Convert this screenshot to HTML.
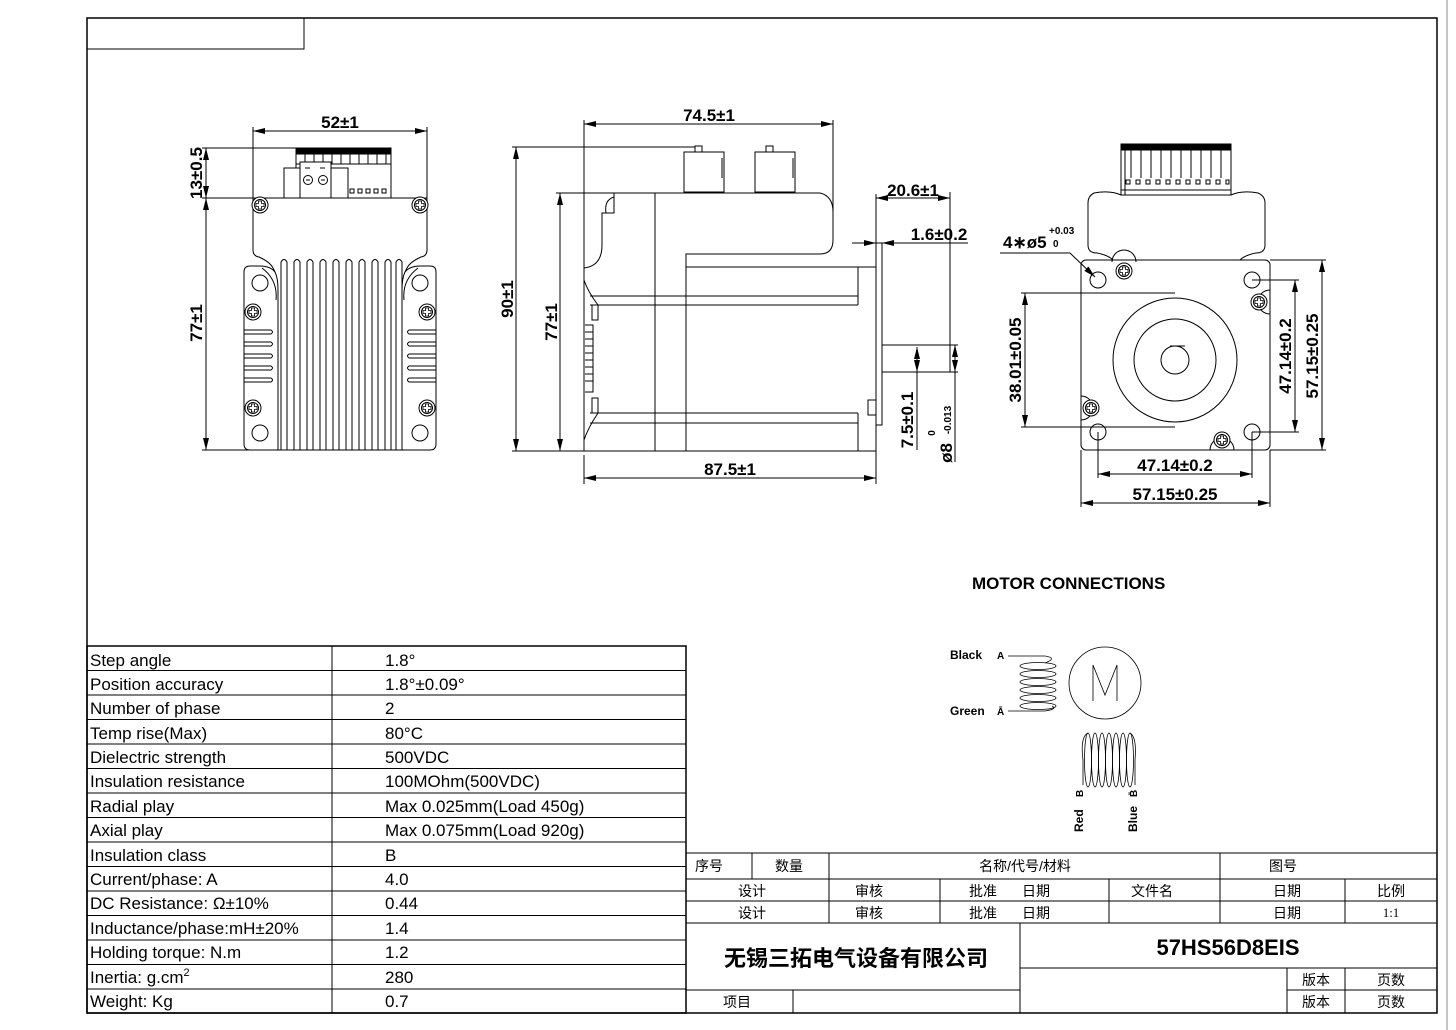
<!DOCTYPE html>
<html><head><meta charset="utf-8"><style>
html,body{margin:0;padding:0;background:#fff}
svg{display:block}
text{font-family:"Liberation Sans Narrow","Liberation Sans",sans-serif;fill:#000}
.d{font-size:17px;font-weight:bold;font-stretch:condensed}
.t{font-size:17px;font-stretch:condensed}
.c{font-family:"Liberation Sans","Noto Sans CJK SC",sans-serif;font-size:14px}
</style></head><body>
<svg width="1456" height="1030" viewBox="0 0 1456 1030" xmlns="http://www.w3.org/2000/svg">
<defs>
<marker id="a" markerWidth="12" markerHeight="6" refX="12" refY="3" orient="auto-start-reverse" markerUnits="userSpaceOnUse"><path d="M0,0 L12,3 L0,6 z" fill="#000"/></marker>
<g id="scr"><circle r="8" fill="#fff" stroke="#000" stroke-width="1"/><circle r="5.5" fill="none" stroke="#000" stroke-width="1"/><path d="M-1.5,-4 h3 v2.5 h2.5 v3 h-2.5 v2.5 h-3 v-2.5 h-2.5 v-3 h2.5z" fill="none" stroke="#000" stroke-width="0.8"/></g>
</defs>
<g fill="none" stroke="#000" stroke-width="1">
<!-- frame -->
<rect x="87" y="18" width="1350" height="995" stroke-width="1.5"/>
<rect x="87" y="18" width="217" height="31"/>
<line x1="1447" y1="0" x2="1447" y2="1030" stroke="#888"/>

<!-- ===== FRONT VIEW ===== -->
<line x1="253" y1="127" x2="253" y2="200"/><line x1="427" y1="127" x2="427" y2="200"/>
<line x1="253" y1="131" x2="427" y2="131" marker-start="url(#a)" marker-end="url(#a)"/>
<line x1="202" y1="148" x2="296" y2="148"/><line x1="202" y1="198" x2="253" y2="198"/>
<line x1="206" y1="148" x2="206" y2="198" marker-start="url(#a)" marker-end="url(#a)"/>
<line x1="206" y1="198" x2="206" y2="450" marker-start="url(#a)" marker-end="url(#a)"/>
<line x1="202" y1="450" x2="290" y2="450"/>
<!-- connector -->
<rect x="296" y="148" width="95" height="50"/>
<rect x="296" y="148" width="95" height="6" fill="#000"/>
<path d="M296 154v10h95v-10"/>
<path d="M305 154v10M314 154v10M323 154v10M332 154v10M341 154v10M350 154v10M359 154v10M368 154v10M377 154v10M386 154v10"/>
<rect x="284" y="168" width="64" height="30" fill="#fff"/>
<rect x="300" y="162" width="31" height="36" fill="#fff"/>
<circle cx="308" cy="180" r="4.5"/><circle cx="323" cy="180" r="4.5"/>
<path d="M306 180h4M321 180h4M305 168h5M320 168h5"/>
<path d="M350 189h4v4h-4zM358 189h4v4h-4zM366 189h4v4h-4zM374 189h4v4h-4zM382 189h4v4h-4z"/>
<!-- top plate & body -->
<path d="M253 198 H427 V250 Q427 256 421 257 Q410 262 407 268 L405 272 Q410 266 420 266 H430 Q436 266 436 272 V444 Q436 450 430 450 H250 Q244 450 244 444 V272 Q244 266 250 266 H260 Q270 266 275 272 L273 268 Q270 262 259 257 Q253 256 253 250 Z"/>
<path d="M275 272 Q278 278 278 290 V450 M405 272 Q402 278 402 290 V450"/>
<path d="M262 268 Q278 280 276 300 M418 268 Q402 280 404 300"/>
<g>
<path d="M281 450V262q3-5 6 0V450M294 450V262q3-5 6 0V450M307 450V262q3-5 6 0V450M320 450V262q3-5 6 0V450M333 450V262q3-5 6 0V450M346 450V262q3-5 6 0V450M359 450V262q3-5 6 0V450M372 450V262q3-5 6 0V450M385 450V262q3-5 6 0V450M396 450V262q3-5 6 0V450"/>
</g>
<circle cx="260" cy="283" r="8"/><circle cx="420" cy="283" r="8"/><circle cx="260" cy="433" r="8"/><circle cx="420" cy="433" r="8"/>
<path d="M244 330h27q3 2 0 4h-27M244 342h27q3 2 0 4h-27M244 354h27q3 2 0 4h-27M244 366h27q3 2 0 4h-27M244 378h27q3 2 0 4h-27"/>
<path d="M436 330h-27q-3 2 0 4h27M436 342h-27q-3 2 0 4h27M436 354h-27q-3 2 0 4h27M436 366h-27q-3 2 0 4h27M436 378h-27q-3 2 0 4h27"/>
</g>
<use href="#scr" x="260" y="205"/><use href="#scr" x="420" y="205"/>
<use href="#scr" x="253" y="312"/><use href="#scr" x="427" y="312"/>
<use href="#scr" x="253" y="408"/><use href="#scr" x="427" y="408"/>
<text class="d" x="340" y="128" text-anchor="middle">52±1</text>
<text class="d" transform="translate(202,173) rotate(-90)" text-anchor="middle">13±0.5</text>
<text class="d" transform="translate(202,323) rotate(-90)" text-anchor="middle">77±1</text>

<!-- ===== SIDE VIEW ===== -->
<g fill="none" stroke="#000" stroke-width="1">
<line x1="584" y1="120" x2="584" y2="268"/><line x1="833" y1="120" x2="833" y2="240"/>
<line x1="584" y1="124" x2="833" y2="124" marker-start="url(#a)" marker-end="url(#a)"/>
<line x1="512" y1="147" x2="695" y2="147"/>
<line x1="516" y1="147" x2="516" y2="451" marker-start="url(#a)" marker-end="url(#a)"/>
<line x1="556" y1="193" x2="604" y2="193"/>
<line x1="560" y1="193" x2="560" y2="451" marker-start="url(#a)" marker-end="url(#a)"/>
<line x1="512" y1="451" x2="584" y2="451"/>
<!-- connectors -->
<rect x="684" y="152" width="40" height="40"/><rect x="695" y="146" width="7" height="6"/>
<rect x="755" y="152" width="40" height="40"/><rect x="766" y="146" width="7" height="6"/>
<path d="M722 158v20M793 158v20"/>
<!-- body -->
<path d="M584 268 Q602 266 602 245 V213 H614 V193 H820 Q833 196 833 212 V240 Q833 254 820 254 H686 V451"/>
<path d="M606 213 Q604 200 614 197"/>
<line x1="604" y1="193" x2="820" y2="193"/>
<line x1="655" y1="193" x2="655" y2="451"/>
<path d="M584 268 V451 H876"/>
<path d="M686 267 H876"/>
<path d="M858 267 V305 M858 413 V451"/>
<path d="M590 296 H858 M590 305 H858 M590 413 H858 M590 423 H858"/>
<path d="M584 280 Q588 292 598 305 M584 440 Q588 428 598 413"/>
<path d="M598 305 H592 V320 H598 Z M598 398 H592 V413 H598 Z" />
<path d="M585 325 H593 V392 H585 M585 332 H593 M585 339 H593 M585 346 H593 M585 353 H593 M585 360 H593 M585 367 H593 M585 374 H593 M585 381 H593"/>
<path d="M876 400 H868 V415 H876"/>
<rect x="876" y="243" width="6" height="182"/>
<rect x="882" y="345" width="68" height="27"/>
<line x1="584" y1="455" x2="584" y2="484"/><line x1="876" y1="425" x2="876" y2="484"/>
<line x1="584" y1="478" x2="876" y2="478" marker-start="url(#a)" marker-end="url(#a)"/>
<line x1="876" y1="194" x2="876" y2="243"/><line x1="950" y1="192" x2="950" y2="345"/>
<line x1="876" y1="198" x2="950" y2="198" marker-start="url(#a)" marker-end="url(#a)"/>
<line x1="852" y1="243" x2="876" y2="243" marker-end="url(#a)"/>
<line x1="907" y1="243" x2="882" y2="243" marker-end="url(#a)"/>
<line x1="907" y1="243" x2="968" y2="243"/>
<line x1="917" y1="347" x2="917" y2="372" marker-start="url(#a)" marker-end="url(#a)"/>
<line x1="917" y1="372" x2="917" y2="450"/>
<line x1="950" y1="372" x2="958" y2="372"/><line x1="950" y1="345" x2="958" y2="345"/>
<line x1="955" y1="345" x2="955" y2="372" marker-start="url(#a)" marker-end="url(#a)"/>
<line x1="955" y1="372" x2="955" y2="462"/>
</g>
<text class="d" x="709" y="121" text-anchor="middle">74.5±1</text>
<text class="d" transform="translate(513,299) rotate(-90)" text-anchor="middle">90±1</text>
<text class="d" transform="translate(557,322) rotate(-90)" text-anchor="middle">77±1</text>
<text class="d" x="730" y="475" text-anchor="middle">87.5±1</text>
<text class="d" x="913" y="196" text-anchor="middle">20.6±1</text>
<text class="d" x="939" y="240" text-anchor="middle">1.6±0.2</text>
<text class="d" transform="translate(913,420) rotate(-90)" text-anchor="middle">7.5±0.1</text>
<text class="d" transform="translate(952,453) rotate(-90)" text-anchor="middle">ø8</text>
<text style="font-size:10px;font-weight:bold" transform="translate(951,420) rotate(-90)" text-anchor="middle">-0.013</text>
<text style="font-size:10px;font-weight:bold" transform="translate(935,433) rotate(-90)" text-anchor="middle">0</text>

<!-- ===== REAR VIEW ===== -->
<g fill="none" stroke="#000" stroke-width="1">
<rect x="1121" y="144" width="110" height="51"/>
<rect x="1121" y="144" width="110" height="6" fill="#000"/>
<path d="M1125 144v51M1131 150v28M1141 150v28M1151 150v28M1161 150v28M1171 150v28M1181 150v28M1191 150v28M1201 150v28M1211 150v28M1221 150v28"/>
<path d="M1126 180h4v4h-4zM1136 180h4v4h-4zM1146 180h4v4h-4zM1156 180h4v4h-4zM1166 180h4v4h-4zM1176 180h4v4h-4zM1186 180h4v4h-4zM1196 180h4v4h-4zM1206 180h4v4h-4zM1216 180h4v4h-4zM1226 180h3v4h-3z"/>
<path d="M1121 190h110"/>
<path d="M1094 193 Q1110 190 1121 195 H1231 Q1242 190 1258 193 Q1265 196 1265 203 V245 Q1265 253 1256 253 Q1245 255 1240 260 M1094 193 Q1088 196 1088 203 V245 Q1088 253 1097 253 Q1108 255 1113 260"/>
<rect x="1081" y="260" width="189" height="190" rx="5"/>
<circle cx="1175" cy="360" r="62"/><circle cx="1175" cy="360" r="41"/><circle cx="1175" cy="360" r="14"/>
<line x1="1170" y1="346" x2="1185" y2="346"/>
<circle cx="1098" cy="280" r="8"/><circle cx="1252" cy="280" r="8"/><circle cx="1098" cy="432" r="8"/><circle cx="1252" cy="432" r="8"/>
<path d="M1112 262 a12 12 0 0 1 24 0 M1270 290 a12 12 0 0 0 0 24 M1081 396 a12 12 0 0 1 0 24 M1210 450 a12 12 0 0 1 24 0"/>
<!-- dims -->
<line x1="1021" y1="293" x2="1175" y2="293"/><line x1="1021" y1="427" x2="1175" y2="427"/>
<line x1="1025" y1="293" x2="1025" y2="427" marker-start="url(#a)" marker-end="url(#a)"/>
<line x1="1252" y1="280" x2="1299" y2="280"/><line x1="1252" y1="432" x2="1299" y2="432"/>
<line x1="1295" y1="280" x2="1295" y2="432" marker-start="url(#a)" marker-end="url(#a)"/>
<line x1="1270" y1="260" x2="1326" y2="260"/><line x1="1270" y1="450" x2="1326" y2="450"/>
<line x1="1322" y1="260" x2="1322" y2="450" marker-start="url(#a)" marker-end="url(#a)"/>
<line x1="1098" y1="432" x2="1098" y2="478"/><line x1="1252" y1="432" x2="1252" y2="478"/>
<line x1="1098" y1="474" x2="1252" y2="474" marker-start="url(#a)" marker-end="url(#a)"/>
<line x1="1081" y1="450" x2="1081" y2="507"/><line x1="1270" y1="450" x2="1270" y2="507"/>
<line x1="1081" y1="503" x2="1270" y2="503" marker-start="url(#a)" marker-end="url(#a)"/>
<path d="M1000 253 H1070 L1095 277" marker-end="url(#a)"/>
</g>
<use href="#scr" x="1124" y="271"/><use href="#scr" x="1259" y="302"/><use href="#scr" x="1091" y="408"/><use href="#scr" x="1222" y="440"/>
<text class="d" x="1003" y="248">4∗ø5</text>
<text style="font-size:10px;font-weight:bold" x="1049" y="234">+0.03</text>
<text style="font-size:10px;font-weight:bold" x="1053" y="247">0</text>
<text class="d" transform="translate(1021,360) rotate(-90)" text-anchor="middle">38.01±0.05</text>
<text class="d" transform="translate(1291,356) rotate(-90)" text-anchor="middle">47.14±0.2</text>
<text class="d" transform="translate(1318,356) rotate(-90)" text-anchor="middle">57.15±0.25</text>
<text class="d" x="1175" y="471" text-anchor="middle">47.14±0.2</text>
<text class="d" x="1175" y="500" text-anchor="middle">57.15±0.25</text>

<!-- ===== MOTOR CONNECTIONS ===== -->
<text class="d" x="972" y="589" style="font-size:17px">MOTOR CONNECTIONS</text>
<g fill="none" stroke="#000" stroke-width="0.8">
<circle cx="1105" cy="683" r="36"/>
<path d="M1093 701 V665 L1105 695 L1117 665 V701"/>
<path d="M1008 656 H1045 Q1058 658 1045 663"/>
<ellipse cx="1038" cy="666" rx="18" ry="3.5"/><ellipse cx="1038" cy="674" rx="18" ry="3.5"/><ellipse cx="1038" cy="682" rx="18" ry="3.5"/><ellipse cx="1038" cy="690" rx="18" ry="3.5"/><ellipse cx="1038" cy="698" rx="18" ry="3.5"/><ellipse cx="1038" cy="706" rx="18" ry="3.5"/>
<path d="M1008 711 H1045 Q1058 709 1052 706"/>
<ellipse cx="1088" cy="760" rx="3.5" ry="27"/><ellipse cx="1095" cy="760" rx="3.5" ry="27"/><ellipse cx="1102" cy="760" rx="3.5" ry="27"/><ellipse cx="1109" cy="760" rx="3.5" ry="27"/><ellipse cx="1116" cy="760" rx="3.5" ry="27"/><ellipse cx="1123" cy="760" rx="3.5" ry="27"/><ellipse cx="1130" cy="760" rx="3.5" ry="27"/>
<path d="M1083 760 Q1080 737 1088 733 M1083 760 V785 M1135 760 Q1137 737 1130 733 M1135 760 V785"/>
</g>
<text style="font-size:12px;font-weight:bold" x="950" y="659">Black</text>
<text style="font-size:10px;font-weight:bold" x="997" y="659">A</text>
<text style="font-size:12px;font-weight:bold" x="950" y="715">Green</text>
<text style="font-size:10px;font-weight:bold" x="997" y="715">Ā</text>
<text style="font-size:12px;font-weight:bold" transform="translate(1083,832) rotate(-90)">Red</text>
<text style="font-size:10px;font-weight:bold" transform="translate(1083,797) rotate(-90)">B</text>
<text style="font-size:12px;font-weight:bold" transform="translate(1137,832) rotate(-90)">Blue</text>
<text style="font-size:10px;font-weight:bold" transform="translate(1137,797) rotate(-90)">B̄</text>

<!-- ===== SPEC TABLE ===== -->
<g fill="none" stroke="#000" stroke-width="1">
<rect x="87" y="646" width="599" height="367" stroke-width="1.5"/>
<line x1="332" y1="646" x2="332" y2="1013"/>
<path d="M87 670.5H686M87 695H686M87 719.5H686M87 744H686M87 768.5H686M87 793H686M87 817.5H686M87 842H686M87 866.5H686M87 891H686M87 915.5H686M87 940H686M87 964.5H686M87 989H686"/>
</g>
<g class="t">
<text class="t" x="90" y="666">Step angle</text><text class="t" x="385" y="666">1.8°</text>
<text class="t" x="90" y="690">Position accuracy</text><text class="t" x="385" y="690">1.8°±0.09°</text>
<text class="t" x="90" y="714">Number of phase</text><text class="t" x="385" y="714">2</text>
<text class="t" x="90" y="739">Temp rise(Max)</text><text class="t" x="385" y="739">80°C</text>
<text class="t" x="90" y="763">Dielectric strength</text><text class="t" x="385" y="763">500VDC</text>
<text class="t" x="90" y="787">Insulation resistance</text><text class="t" x="385" y="787">100MOhm(500VDC)</text>
<text class="t" x="90" y="812">Radial play</text><text class="t" x="385" y="812">Max 0.025mm(Load 450g)</text>
<text class="t" x="90" y="836">Axial play</text><text class="t" x="385" y="836">Max 0.075mm(Load 920g)</text>
<text class="t" x="90" y="861">Insulation class</text><text class="t" x="385" y="861">B</text>
<text class="t" x="90" y="885">Current/phase: A</text><text class="t" x="385" y="885">4.0</text>
<text class="t" x="90" y="909">DC Resistance: Ω±10%</text><text class="t" x="385" y="909">0.44</text>
<text class="t" x="90" y="934">Inductance/phase:mH±20%</text><text class="t" x="385" y="934">1.4</text>
<text class="t" x="90" y="958">Holding torque: N.m</text><text class="t" x="385" y="958">1.2</text>
<text class="t" x="90" y="983">Inertia: g.cm<tspan dy="-7" style="font-size:11px">2</tspan></text><text class="t" x="385" y="983">280</text>
<text class="t" x="90" y="1007">Weight: Kg</text><text class="t" x="385" y="1007">0.7</text>
</g>

<!-- ===== TITLE BLOCK ===== -->
<g fill="none" stroke="#000" stroke-width="1">
<path d="M686 853H1437M686 879H1437M686 901H1437M686 923H1437M686 990H1020M1020 968H1437M1287 990H1437"/>
<path d="M686 853V1013M752 853V879M829 853V923M1220 853V923M940 879V923M1109 879V923M1345 879V923M1020 923V1013M793 990V1013M1287 968V1013M1345 968V1013"/>
</g>
<g class="c">
<text class="c" x="695" y="871">序号</text><text class="c" x="775" y="871">数量</text>
<text class="c" x="1025" y="871" text-anchor="middle">名称/代号/材料</text>
<text class="c" x="1283" y="871" text-anchor="middle">图号</text>
<text class="c" x="752" y="896" text-anchor="middle">设计</text><text class="c" x="869" y="896" text-anchor="middle">审核</text>
<text class="c" x="983" y="896" text-anchor="middle">批准</text><text class="c" x="1036" y="896" text-anchor="middle">日期</text>
<text class="c" x="1152" y="896" text-anchor="middle">文件名</text><text class="c" x="1287" y="896" text-anchor="middle">日期</text>
<text class="c" x="1391" y="896" text-anchor="middle">比例</text>
<text class="c" x="752" y="918" text-anchor="middle">设计</text><text class="c" x="869" y="918" text-anchor="middle">审核</text>
<text class="c" x="983" y="918" text-anchor="middle">批准</text><text class="c" x="1036" y="918" text-anchor="middle">日期</text>
<text class="c" x="1287" y="918" text-anchor="middle">日期</text>
<text x="1391" y="917" text-anchor="middle" style="font-family:'Liberation Serif',serif;font-size:13px">1:1</text>
<text class="c" x="856" y="966" text-anchor="middle" style="font-size:22px;font-weight:bold">无锡三拓电气设备有限公司</text>
<text x="1228" y="955" text-anchor="middle" style="font-size:22px;font-weight:bold;font-stretch:condensed">57HS56D8EIS</text>
<text class="c" x="1316" y="985" text-anchor="middle">版本</text><text class="c" x="1391" y="985" text-anchor="middle">页数</text>
<text class="c" x="1316" y="1007" text-anchor="middle">版本</text><text class="c" x="1391" y="1007" text-anchor="middle">页数</text>
<text class="c" x="737" y="1007" text-anchor="middle">项目</text>
</g>
</svg>
</body></html>
